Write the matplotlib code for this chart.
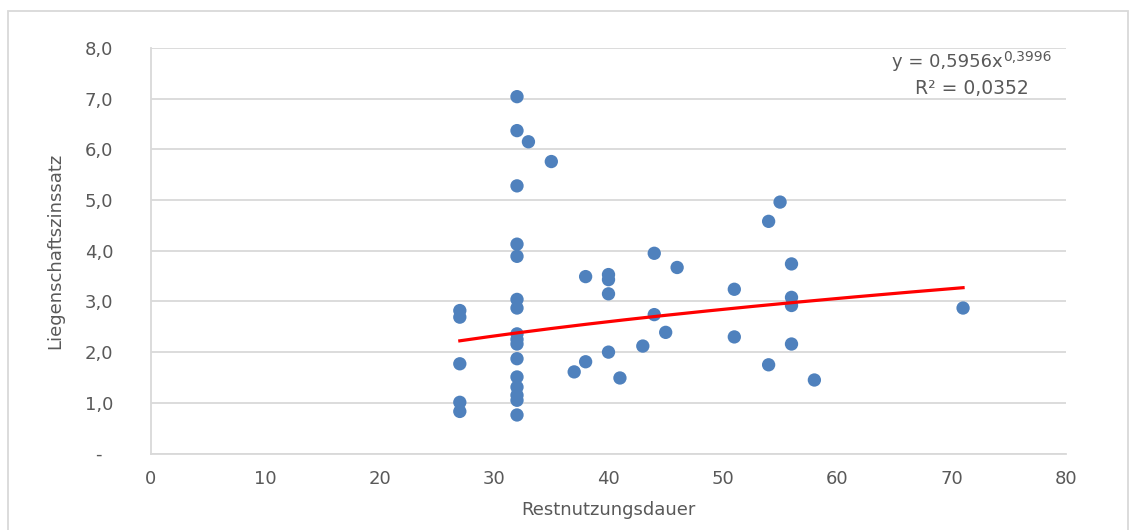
import numpy as np
import matplotlib
matplotlib.use("Agg")
import matplotlib.pyplot as plt
from matplotlib.patches import Rectangle

# Remaining useful life (years) vs. property yield rate (%)
restnutzungsdauer = [
    27, 27, 27, 27, 27,
    32, 32, 32, 32, 32, 32, 32, 32, 32, 32, 32, 32, 32, 32, 32, 32,
    33, 35, 37, 38, 38, 40, 40, 40, 40, 41, 43, 44, 44, 45, 46,
    51, 51, 54, 54, 55, 56, 56, 56, 56, 58, 71,
]
liegenschaftszinssatz = [
    2.82, 2.69, 1.77, 1.01, 0.83,
    7.04, 6.37, 5.28, 4.13, 3.89, 3.04, 2.87, 2.36, 2.25, 2.16, 1.87, 1.51, 1.31, 1.15, 1.05, 0.76,
    6.15, 5.76, 1.61, 3.49, 1.81, 3.53, 3.43, 3.15, 2.00, 1.49, 2.12, 3.95, 2.74, 2.39, 3.67,
    3.24, 2.30, 4.58, 1.75, 4.96, 3.74, 3.08, 2.92, 2.16, 1.45, 2.87,
]

# Power trend line y = a * x^b
trend_a = 0.5956
trend_b = 0.3996
r_squared = "0,0352"

x_ticks = [0, 10, 20, 30, 40, 50, 60, 70, 80]
y_ticks = [0, 1, 2, 3, 4, 5, 6, 7, 8]
y_ticklabels = ["-  ", "1,0", "2,0", "3,0", "4,0", "5,0", "6,0", "7,0", "8,0"]

text_color = "#595959"
grid_color = "#d9d9d9"
point_color = "#4F81BD"

plt.rcParams["font.family"] = ["DejaVu Sans"]

W, H = 1136, 530
fig = plt.figure(figsize=(W / 100, H / 100), dpi=100)
fig.patch.set_facecolor("white")

# chart frame
fig.patches.append(Rectangle((8 / W, -0.05), (1128 - 8) / W, 1.05 - 11 / H,
                             transform=fig.transFigure, fill=False,
                             edgecolor=grid_color, linewidth=1.3))

ax = fig.add_axes([151 / W, 1 - 453.5 / H, (1066 - 151) / W, (453.5 - 48) / H])
ax.set_xlim(0, 80)
ax.set_ylim(0, 8)

ax.set_yticks(y_ticks)
ax.set_yticklabels(y_ticklabels)
ax.set_xticks(x_ticks)
ax.set_xticklabels([str(t) for t in x_ticks])
ax.tick_params(axis="both", length=0, labelsize=13, labelcolor=text_color)
ax.tick_params(axis="y", pad=27)
ax.tick_params(axis="x", pad=12)

ax.grid(axis="y", color=grid_color, linewidth=1.3)
ax.set_axisbelow(True)
for side in ("top", "right"):
    ax.spines[side].set_visible(False)
for side in ("left", "bottom"):
    ax.spines[side].set_color(grid_color)
    ax.spines[side].set_linewidth(1.3)

ax.scatter(restnutzungsdauer, liegenschaftszinssatz, s=92, color=point_color,
           edgecolors="none", zorder=3)

xs = np.linspace(min(restnutzungsdauer), max(restnutzungsdauer), 200)
ax.plot(xs, trend_a * xs ** trend_b, color="#ff0000", linewidth=2.3, zorder=4)

ax.set_xlabel("Restnutzungsdauer", fontsize=13, color=text_color, labelpad=9)
ax.set_ylabel("Liegenschaftszinssatz", fontsize=13, color=text_color, labelpad=15)

# trend line equation
t1 = fig.text(892 / W, 1 - 62 / H, "y = 0,5956x", fontsize=13, color=text_color,
              ha="left", va="center")
ax.annotate("0,3996", xy=(1.0, 0.8), xycoords=t1, fontsize=10, color=text_color,
            ha="left", va="center", annotation_clip=False)
fig.text(972 / W, 1 - 89 / H, "R² = " + r_squared, fontsize=13.5, color=text_color,
         ha="center", va="center")

fig.savefig("out.png", dpi=100, facecolor="white")
